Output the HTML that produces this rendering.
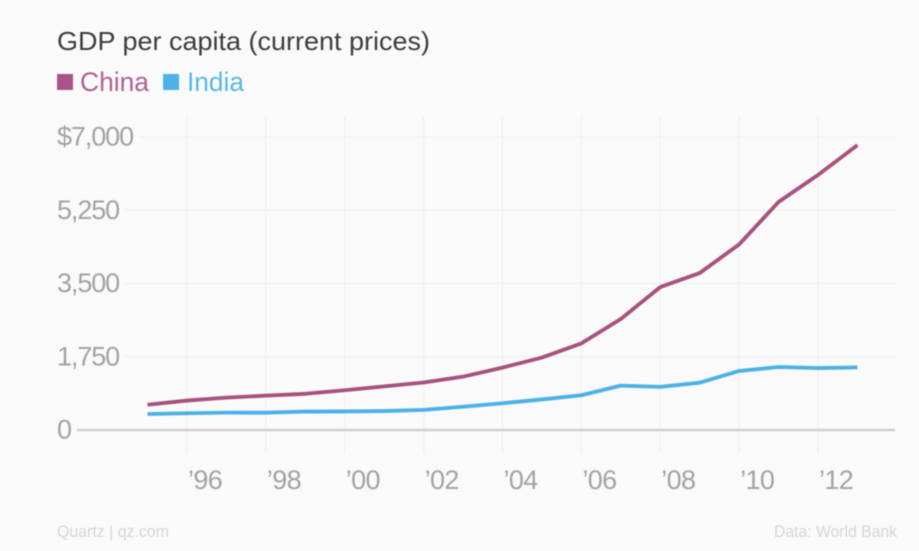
<!DOCTYPE html>
<html>
<head>
<meta charset="utf-8">
<style>
html,body{margin:0;padding:0;width:919px;height:551px;overflow:hidden;background:#fafafa}
svg{display:block;filter:blur(0.45px)}
text{font-family:"Liberation Sans",sans-serif}
</style>
</head>
<body>
<svg id="chart" width="919" height="551" viewBox="0 0 919 551" xmlns="http://www.w3.org/2000/svg">
  <rect width="919" height="551" fill="#fafafa"/>
  <text x="57" y="50" font-size="26" fill="#3d3d3d" textLength="373" lengthAdjust="spacingAndGlyphs">GDP per capita (current prices)</text>
  <rect x="57" y="74" width="16" height="16" fill="#a9528a"/>
  <text x="80" y="91" font-size="27" fill="#b35f94" textLength="69" lengthAdjust="spacingAndGlyphs">China</text>
  <rect x="163" y="74" width="16" height="16" fill="#4fb2e6"/>
  <text x="187" y="91" font-size="27" fill="#5ab8ea" textLength="57" lengthAdjust="spacingAndGlyphs">India</text>
  <g id="grid"></g>
  <g id="labels"></g>
  <g id="series"></g>
  <text x="57" y="537" font-size="17" fill="#d6d6d6" textLength="112" lengthAdjust="spacingAndGlyphs">Quartz | qz.com</text>
  <text x="897" y="537" font-size="17" fill="#d6d6d6" text-anchor="end" textLength="123" lengthAdjust="spacingAndGlyphs">Data: World Bank</text>
</svg>
<script>
const years = [1995,1996,1997,1998,1999,2000,2001,2002,2003,2004,2005,2006,2007,2008,2009,2010,2011,2012,2013];
const chinaValues = [604,703,774,821,865,949,1042,1135,1274,1490,1731,2069,2651,3414,3749,4434,5447,6093,6807];
const indiaValues = [382,400,415,413,440,443,452,480,555,640,730,830,1060,1030,1130,1410,1505,1480,1495];
const yTicks = [0,1750,3500,5250,7000];
const yTickLabels = ['0','1,750','3,500','5,250','$7,000'];
const xTicks = [1996,1998,2000,2002,2004,2006,2008,2010,2012];
const xTickLabels = ['\u201996','\u201998','\u201900','\u201902','\u201904','\u201906','\u201908','\u201910','\u201912'];

const NS = 'http://www.w3.org/2000/svg';
const xScale = function (year) { return 147.5 + (year - 1995) * 39.44; };
const yScale = function (value) { return 430 - value * (293 / 7000); };
const gridLayer = document.getElementById('grid');
const labelLayer = document.getElementById('labels');
const seriesLayer = document.getElementById('series');

function makeLine(x1, y1, x2, y2, color, width) {
  const line = document.createElementNS(NS, 'line');
  line.setAttribute('x1', x1);
  line.setAttribute('y1', y1);
  line.setAttribute('x2', x2);
  line.setAttribute('y2', y2);
  line.setAttribute('stroke', color);
  line.setAttribute('stroke-width', width);
  return line;
}

xTicks.forEach(function (tick, i) {
  const x = xScale(tick);
  const grid = makeLine(x, 117, x, 454, '#f0f0f0', 1.3);
  
  
  gridLayer.appendChild(grid);
  const label = document.createElementNS(NS, 'text');
  
  
  label.setAttribute('x', x + 1);
  label.setAttribute('y', 489);
  label.setAttribute('font-size', '27');
  label.setAttribute('fill', '#a3a3a3');
  label.setAttribute('letter-spacing', '-0.6');
  label.textContent = xTickLabels[i];
  labelLayer.appendChild(label);
});

yTicks.forEach(function (tick, i) {
  const y = yScale(tick);
  const label = document.createElementNS(NS, 'text');
  
  
  label.setAttribute('x', 57);
  label.setAttribute('y', y + 8.7);
  label.setAttribute('font-size', '27');
  label.setAttribute('fill', '#a3a3a3');
  label.setAttribute('letter-spacing', '-1.1');
  label.textContent = yTickLabels[i];
  labelLayer.appendChild(label);
  const start = 57 + label.getComputedTextLength() + 6;
  const grid = makeLine(start, y, 895, y, tick === 0 ? '#cfcfcf' : '#f2f2f2', tick === 0 ? 2.4 : 1.6);
  
  
  gridLayer.appendChild(grid);
});

function drawSeries(values, color, name) {
  const path = document.createElementNS(NS, 'path');
  const d = values.map(function (value, i) {
    return (i === 0 ? 'M' : 'L') + xScale(years[i]).toFixed(2) + ' ' + yScale(value).toFixed(2);
  }).join(' ');
  path.setAttribute('d', d);
  path.setAttribute('fill', 'none');
  path.setAttribute('stroke', color);
  path.setAttribute('stroke-width', '3.8');
  path.setAttribute('stroke-linejoin', 'round');
  
  
  seriesLayer.appendChild(path);
}

drawSeries(chinaValues, '#a8517f', 'china-line');
drawSeries(indiaValues, '#4cb1e6', 'india-line');
</script>
</body>
</html>
